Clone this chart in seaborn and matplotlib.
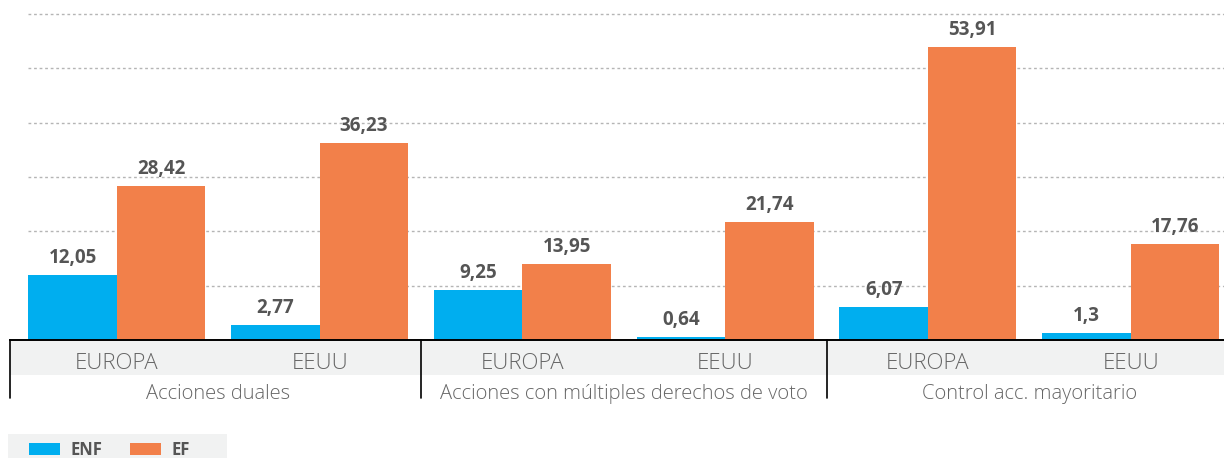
import pandas as pd
import matplotlib.pyplot as plt
import matplotlib.transforms as mtransforms
from matplotlib.patches import Rectangle, Patch
import seaborn as sns

# -----------------------------
# Data
# -----------------------------
categories = ["Acciones duales", "Acciones con múltiples derechos de voto", "Control acc. mayoritario"]
regions = ["EUROPA", "EEUU"]
series = ["ENF", "EF"]
enf_values = [12.05, 2.77, 9.25, 0.64, 6.07, 1.3]
ef_values = [28.42, 36.23, 13.95, 21.74, 53.91, 17.76]

colors = {"ENF": "#00AEEF", "EF": "#F2804A"}

slots = [f"{c}|{r}" for c in categories for r in regions]
df = pd.DataFrame({
    "slot": slots * 2,
    "serie": ["ENF"] * len(slots) + ["EF"] * len(slots),
    "valor": enf_values + ef_values,
})

# -----------------------------
# Style
# -----------------------------
sns.set_style("white")
plt.rcParams["font.family"] = ["Open Sans", "DejaVu Sans"]

fig = plt.figure(figsize=(12.24, 4.59), dpi=100)
W, H = 1224, 459
ax = fig.add_axes([10 / W, 119 / H, 1214 / W, 340 / H])

sns.barplot(data=df, x="slot", y="valor", hue="serie", hue_order=series,
            palette=colors, width=0.873, gap=0, saturation=1, linewidth=0,
            order=slots, legend=False, ax=ax, zorder=3)

ax.set_xlim(-0.527, 5.46)
ax.set_ylim(0, 62.6)

# dotted gridlines
grid_y = [10, 20, 30, 40, 50, 60]
ax.hlines(grid_y, -0.436, 5.46, colors="#b5b5b5", linewidth=1,
          linestyles=(0, (2, 2)), zorder=1)

ax.set_yticks([])
ax.set_xticks([])
ax.set_xlabel("")
ax.set_ylabel("")
for s in ["top", "right", "left"]:
    ax.spines[s].set_visible(False)
ax.spines["bottom"].set_color("black")
ax.spines["bottom"].set_linewidth(1.4)
ax.spines["bottom"].set_zorder(5)

# value labels
for cont, vals in zip(ax.containers, [enf_values, ef_values]):
    labels = [str(v).replace(".", ",") for v in vals]
    ax.bar_label(cont, labels=labels, padding=5, fontsize=13.5,
                 fontweight="bold", color="#555555")

# -----------------------------
# Category axis (two levels)
# -----------------------------
trans = mtransforms.blended_transform_factory(ax.transData, ax.transAxes)
band = Rectangle((-0.527, -35 / 340), 6.0, 35 / 340, transform=trans,
                 facecolor="#F1F2F2", edgecolor="none", clip_on=False, zorder=0)
ax.add_patch(band)

for i, s in enumerate(slots):
    ax.text(i, -29 / 340, s.split("|")[1], transform=trans, ha="center",
            va="baseline", fontsize=16, fontweight="light", color="#666666")

for j, c in enumerate(categories):
    ax.text(2 * j + 0.5, -59 / 340, c, transform=trans, ha="center",
            va="baseline", fontsize=14.5, fontweight="light", color="#666666")

for xs in [-0.527, 1.5, 3.5]:
    ax.plot([xs, xs], [0, -58 / 340], transform=trans, color="black",
            linewidth=1.2, clip_on=False, zorder=5)

# -----------------------------
# Legend
# -----------------------------
fig.patches.append(Rectangle((8 / W, 1 / H), 219 / W, 24 / H, transform=fig.transFigure,
                             facecolor="#F1F2F2", edgecolor="none", zorder=0))
handles = [Patch(facecolor=colors[s], edgecolor="none") for s in series]
leg = fig.legend(handles, series, loc="center left", bbox_to_anchor=(29 / W, 1 - 450 / H),
                 ncol=2, frameon=False, borderpad=0, borderaxespad=0,
                 handlelength=1.86, handleheight=0.72, handletextpad=0.6,
                 columnspacing=1.7, prop={"size": 12, "weight": "bold"})
for t in leg.get_texts():
    t.set_color("#555555")

plt.savefig("out.png", dpi=100)
